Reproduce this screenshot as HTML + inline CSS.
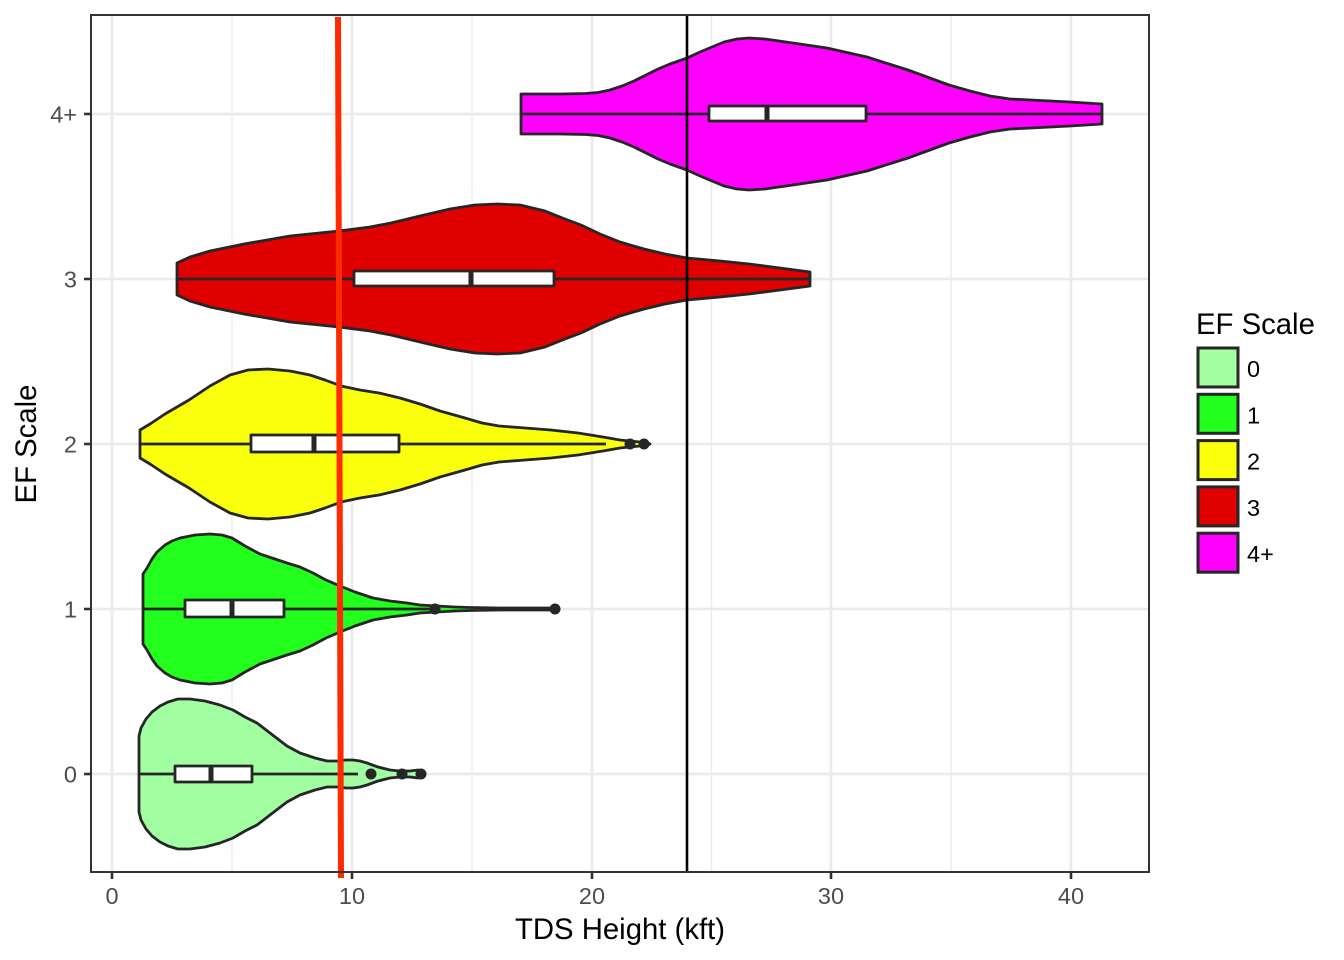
<!DOCTYPE html>
<html>
<head>
<meta charset="utf-8">
<style>
  html, body { margin: 0; padding: 0; background: #ffffff; }
  svg { display: block; }
  text { font-family: "Liberation Sans", Arial, sans-serif; }
</style>
</head>
<body>
<svg width="1344" height="960" viewBox="0 0 1344 960" xmlns="http://www.w3.org/2000/svg">
  <rect x="0" y="0" width="1344" height="960" fill="#ffffff"/>

  <!-- minor grid -->
  <g stroke="#EBEBEB" stroke-width="1.4">
    <line x1="232" y1="15" x2="232" y2="872"/>
    <line x1="472" y1="15" x2="472" y2="872"/>
    <line x1="711.5" y1="15" x2="711.5" y2="872"/>
    <line x1="951" y1="15" x2="951" y2="872"/>
  </g>
  <!-- major grid -->
  <g stroke="#EBEBEB" stroke-width="2.8">
    <line x1="112" y1="15" x2="112" y2="872"/>
    <line x1="352" y1="15" x2="352" y2="872"/>
    <line x1="592" y1="15" x2="592" y2="872"/>
    <line x1="831" y1="15" x2="831" y2="872"/>
    <line x1="1071" y1="15" x2="1071" y2="872"/>
    <line x1="91" y1="114" x2="1149" y2="114"/>
    <line x1="91" y1="279" x2="1149" y2="279"/>
    <line x1="91" y1="444" x2="1149" y2="444"/>
    <line x1="91" y1="609" x2="1149" y2="609"/>
    <line x1="91" y1="774" x2="1149" y2="774"/>
  </g>

  <g stroke="#262626" stroke-width="2.8" stroke-linejoin="round">
    <!-- EF0 violin -->
    <polygon fill="#A1FFA1" points="139,736 141,728 146,719 152,712 160,706 168,702 178,699 190,699 205,701 220,705 233,710 245,717 257,723 270,733 287,746 300,753 315,758 327,761 338,761 346,760 353,760 360,761 367,763 378,767 390,770 400,771 410,771 418,770 423,772 425,774 423,776 418,778 410,777 400,777 390,778 378,781 367,785 360,787 353,788 346,788 338,787 327,787 315,790 300,795 287,802 270,815 257,825 245,831 233,838 220,843 205,847 190,849 178,849 168,846 160,842 152,836 146,829 141,820 139,812"/>
    <!-- EF1 violin -->
    <polygon fill="#22FF1C" points="143,574 147,568 152,559 157,552 165,545 172,541 180,538 195,535 210,534 222,535 232,538 245,546 260,554 275,559 287,563 300,567 313,573 326,580 340,586 355,592 373,598 390,601 407,603 420,605 437,606 455,607 470,607.5 500,608 553,608 556,609 553,610 500,610 470,610.5 455,611 437,612 420,613 407,615 390,617 373,620 355,626 340,632 326,638 313,645 300,651 287,655 275,659 260,664 245,672 232,680 222,683 210,684 195,683 180,680 172,677 165,673 157,666 152,659 147,650 143,644"/>
    <!-- EF2 violin -->
    <polygon fill="#FAFF0D" points="140,430 150,424 165,414 189,400 210,386 230,375 248,370 268,369 290,371 310,375 325,380 341,386 360,390 379,393 400,398 420,404 440,411 465,418 482,423 499,426 525,428 551,430 578,433 603,437 620,440 640,442 648,443 650,444 648,445 640,446 620,448 603,451 578,455 551,458 525,460 499,462 482,465 465,470 440,477 420,484 400,490 379,495 360,498 341,502 325,508 310,513 290,517 268,519 248,518 230,513 210,502 189,488 165,474 150,464 140,458"/>
    <!-- EF3 violin -->
    <polygon fill="#E10000" points="177,263 190,257 210,251 244,244 290,236 339,231 370,227 391,223 420,216 450,209 475,205 497,204 520,205 545,211 565,219 581,225 600,234 620,242 644,249 665,254 687,258 720,261 749,264 780,268 810,272 810,286 780,290 749,294 720,297 687,300 665,304 644,309 620,316 600,324 581,333 565,339 545,347 520,353 497,354 475,353 450,349 420,342 391,335 370,331 339,327 290,322 244,314 210,307 190,301 177,295"/>
    <!-- EF4 violin -->
    <polygon fill="#FF00FF" points="521,94 560,94 585,93.5 598,92.5 610,90 622,86 634,81 646,75 658,69 670,64 687,58 700,52 712,47 724,42 737,39 749,38 765,39 786,42 827,48 867,57 908,70 949,85 970,91 990,96 1010,99 1031,100 1070,102 1102,104 1102,124 1070,126 1031,128 1010,129 990,132 970,137 949,143 908,158 867,171 827,180 786,186 765,189 749,190 737,189 724,186 712,181 700,176 687,170 670,164 658,159 646,153 634,147 622,142 610,138 598,135.5 585,134.5 560,134 521,134"/>

    <!-- whiskers -->
    <line x1="139" y1="774" x2="358" y2="774"/>
    <line x1="143" y1="609" x2="430" y2="609"/>
    <line x1="140" y1="444" x2="606" y2="444"/>
    <line x1="177" y1="279" x2="810" y2="279"/>
    <line x1="521" y1="114" x2="1102" y2="114"/>

    <!-- boxes -->
    <rect x="175" y="766" width="77" height="16" fill="#ffffff"/>
    <rect x="185" y="600" width="99" height="17" fill="#ffffff"/>
    <rect x="251" y="435" width="148" height="17" fill="#ffffff"/>
    <rect x="354" y="271" width="200" height="15" fill="#ffffff"/>
    <rect x="709" y="106" width="157" height="15" fill="#ffffff"/>
  </g>
  <!-- medians -->
  <g stroke="#262626" stroke-width="5">
    <line x1="211" y1="766" x2="211" y2="782"/>
    <line x1="232" y1="600" x2="232" y2="617"/>
    <line x1="314" y1="435" x2="314" y2="452"/>
    <line x1="471" y1="271" x2="471" y2="286"/>
    <line x1="767" y1="106" x2="767" y2="121"/>
  </g>
  <!-- outliers -->
  <g fill="#262626">
    <circle cx="371" cy="774" r="5.5"/>
    <circle cx="402" cy="774" r="5.5"/>
    <circle cx="421" cy="774" r="5.5"/>
    <circle cx="435" cy="609" r="5.5"/>
    <circle cx="555" cy="609" r="5.5"/>
    <circle cx="630" cy="444" r="5.5"/>
    <circle cx="644" cy="444" r="5.5"/>
  </g>

  <!-- reference lines -->
  <line x1="687" y1="15" x2="687" y2="872" stroke="#000000" stroke-width="2.6"/>
  <line x1="338" y1="17" x2="341" y2="878" stroke="#FF2B00" stroke-width="6"/>

  <!-- panel border -->
  <rect x="91" y="15" width="1058" height="857" fill="none" stroke="#333333" stroke-width="2"/>

  <!-- ticks -->
  <g stroke="#333333" stroke-width="2.6">
    <line x1="112" y1="872" x2="112" y2="879"/>
    <line x1="352" y1="872" x2="352" y2="879"/>
    <line x1="592" y1="872" x2="592" y2="879"/>
    <line x1="831" y1="872" x2="831" y2="879"/>
    <line x1="1071" y1="872" x2="1071" y2="879"/>
    <line x1="84" y1="114" x2="91" y2="114"/>
    <line x1="84" y1="279" x2="91" y2="279"/>
    <line x1="84" y1="444" x2="91" y2="444"/>
    <line x1="84" y1="609" x2="91" y2="609"/>
    <line x1="84" y1="774" x2="91" y2="774"/>
  </g>

  <!-- tick labels -->
  <g fill="#4D4D4D" font-size="23.5" text-anchor="middle">
    <text x="112" y="904">0</text>
    <text x="352" y="904">10</text>
    <text x="592" y="904">20</text>
    <text x="831" y="904">30</text>
    <text x="1071" y="904">40</text>
  </g>
  <g fill="#4D4D4D" font-size="23.5" text-anchor="end">
    <text x="77" y="122.5">4+</text>
    <text x="77" y="287.5">3</text>
    <text x="77" y="452.5">2</text>
    <text x="77" y="617.5">1</text>
    <text x="77" y="782.5">0</text>
  </g>

  <!-- axis titles -->
  <text x="620" y="939" font-size="29.3" text-anchor="middle" fill="#000000">TDS Height (kft)</text>
  <text x="0" y="0" font-size="29.3" text-anchor="middle" fill="#000000" transform="translate(36,444) rotate(-90)">EF Scale</text>

  <!-- legend -->
  <text x="1196" y="334" font-size="29.3" fill="#000000">EF Scale</text>
  <g stroke="#262626" stroke-width="3">
    <rect x="1198" y="348" width="40" height="39" fill="#A1FFA1"/>
    <rect x="1198" y="394.3" width="40" height="39" fill="#22FF1C"/>
    <rect x="1198" y="440.6" width="40" height="39" fill="#FAFF0D"/>
    <rect x="1198" y="486.9" width="40" height="39" fill="#E10000"/>
    <rect x="1198" y="533.2" width="40" height="39" fill="#FF00FF"/>
  </g>
  <g fill="#000000" font-size="23.5">
    <text x="1247" y="377">0</text>
    <text x="1247" y="423.3">1</text>
    <text x="1247" y="469.6">2</text>
    <text x="1247" y="515.9">3</text>
    <text x="1247" y="562.2">4+</text>
  </g>
</svg>
</body>
</html>
